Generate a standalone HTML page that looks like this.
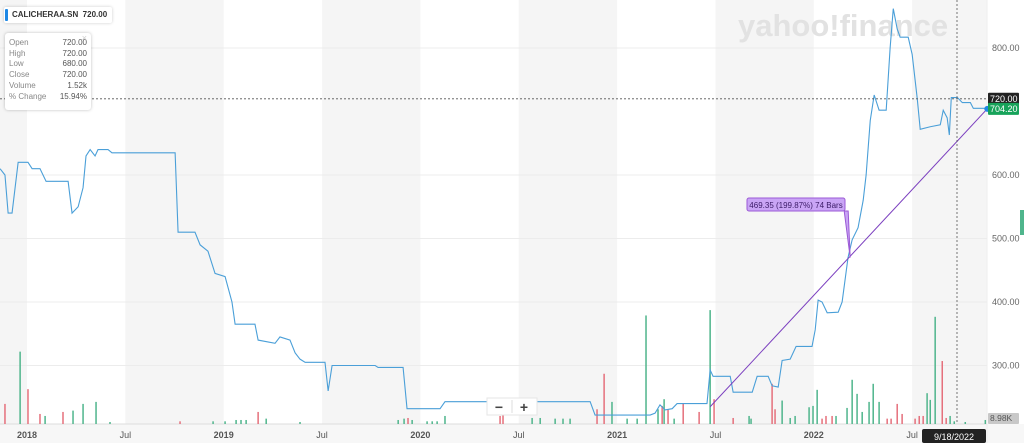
<!DOCTYPE html>
<html><head><meta charset="utf-8"><style>
html,body{margin:0;padding:0;background:#fff;width:1024px;height:443px;overflow:hidden;font-family:"Liberation Sans",sans-serif}
svg{display:block}
.tt{position:absolute;left:5px;top:33px;width:86px;height:77px;background:#fff;border-radius:3px;box-shadow:0 0 3px rgba(0,0,0,.25);font-size:8px;color:#888}
.tt div{display:flex;justify-content:space-between;padding:0 4px;line-height:10.7px}
.tt div span:last-child{color:#555}
</style></head><body>
<svg id="chart" width="1024" height="443"></svg>
<div style="position:absolute;left:4px;top:7px;height:16px;background:#fff;border-radius:2px;box-shadow:0 0 3px rgba(0,0,0,.2);font-size:8px;font-weight:bold;color:#333;line-height:16px;padding:0 5px 0 8px"><span style="position:absolute;left:1px;top:2px;width:3px;height:12px;background:#1e88e5;border-radius:1px"></span>CALICHERAA.SN&nbsp; 720.00</div>
<div class="tt"><div style="padding-top:5px"><span>Open</span><span>720.00</span></div><div><span>High</span><span>720.00</span></div><div><span>Low</span><span>680.00</span></div><div><span>Close</span><span>720.00</span></div><div><span>Volume</span><span>1.52k</span></div><div><span>% Change</span><span>15.94%</span></div><span style="position:absolute;right:4px;top:0;color:#ccc;font-size:9px">×</span></div>
<script>
const xTicks=[2018,2018.5,2019,2019.5,2020,2020.5,2021,2021.5,2022,2022.5];
const xTickLabels=["2018","Jul","2019","Jul","2020","Jul","2021","Jul","2022","Jul"];
const yTicks=[300,400,500,600,800];
const priceDates=[2017.863,2017.888,2017.904,2017.924,2017.955,2018.005,2018.026,2018.066,2018.097,2018.209,2018.229,2018.260,2018.285,2018.300,2018.321,2018.346,2018.361,2018.412,2018.432,2018.753,2018.768,2018.854,2018.880,2018.920,2018.956,2019.007,2019.042,2019.058,2019.159,2019.175,2019.261,2019.286,2019.337,2019.363,2019.388,2019.414,2019.515,2019.531,2019.551,2019.770,2019.785,2019.912,2019.932,2020.100,2020.125,2020.863,2020.888,2021.168,2021.193,2021.218,2021.244,2021.280,2021.305,2021.457,2021.473,2021.488,2021.575,2021.590,2021.687,2021.712,2021.768,2021.788,2021.819,2021.839,2021.880,2021.910,2021.991,2022.007,2022.022,2022.042,2022.068,2022.124,2022.144,2022.174,2022.195,2022.225,2022.251,2022.266,2022.287,2022.307,2022.332,2022.368,2022.388,2022.404,2022.424,2022.439,2022.480,2022.500,2022.526,2022.541,2022.592,2022.643,2022.658,2022.678,2022.689,2022.699,2022.730,2022.755,2022.796,2022.811,2022.882];
const prices=[610,600,540,540,620,620,610,610,590,590,540,550,580,630,640,630,640,640,635,635,510,510,490,480,445,440,400,365,365,340,335,345,340,320,310,305,305,260,300,300,297,297,232,232,243,243,222,222,225,238,230,232,240,240,293,283,283,258,258,283,283,268,266,308,310,330,330,356,403,400,383,384,400,470,498,517,560,600,686,726,702,702,800,862,830,817,817,790,720,672,676,679,702,690,663,722,722,714,714,705,705];
const volDates=[2017.888,2017.965,2018.005,2018.066,2018.092,2018.183,2018.234,2018.285,2018.351,2018.422,2018.778,2018.946,2019.007,2019.063,2019.088,2019.114,2019.175,2019.216,2019.388,2019.887,2019.917,2019.937,2019.958,2020.034,2020.060,2020.085,2020.125,2020.405,2020.420,2020.568,2020.609,2020.685,2020.725,2020.761,2020.898,2020.934,2020.974,2021.051,2021.102,2021.147,2021.208,2021.229,2021.239,2021.259,2021.290,2021.336,2021.417,2021.473,2021.493,2021.590,2021.671,2021.681,2021.788,2021.803,2021.839,2021.880,2021.905,2021.976,2021.996,2022.017,2022.042,2022.062,2022.093,2022.113,2022.169,2022.195,2022.220,2022.246,2022.281,2022.302,2022.332,2022.373,2022.393,2022.424,2022.449,2022.515,2022.536,2022.556,2022.576,2022.592,2022.617,2022.653,2022.673,2022.693,2022.714,2022.770,2022.872];
const volumes=[30,108,52,15,12,18,20,30,33,3,4,4,4,6,6,6,18,8,3,6,8,9,6,4,4,4,12,12,21,9,9,8,8,8,22,75,33,8,8,162,22,27,37,22,8,30,18,170,37,9,12,8,60,22,35,9,12,25,27,51,8,12,12,12,24,66,45,18,33,60,33,8,8,30,15,8,12,12,46,36,160,94,9,12,4,3,6];
const volUp=[0,1,0,0,1,0,1,1,1,1,0,1,1,1,1,1,0,1,1,1,1,0,1,1,1,1,1,0,0,1,1,1,1,1,0,0,1,1,1,1,1,0,1,0,1,0,0,1,0,0,1,1,0,0,1,1,1,1,1,1,0,0,0,1,1,1,1,1,1,1,1,0,0,0,0,0,0,0,1,1,1,0,0,1,1,1,1];
const trendStart=[2021.473,235],trendEnd=[2022.882,704.2];

const NS="http://www.w3.org/2000/svg",svg=document.getElementById('chart');
const PR=987,BASE=424;
const xs=t=>27+(t-2018)*196.7;
const ys=v=>48+(800-v)*0.635;
const vs=v=>v*0.67;
function mk(tag,at,parent){const e=document.createElementNS(NS,tag);for(const k in at)e.setAttribute(k,at[k]);(parent||svg).appendChild(e);return e;}
// shaded bands
for(let i=-1;i<xTicks.length;i+=2){const a=i<0?0:xs(xTicks[i]),b=i+1<xTicks.length?xs(xTicks[i+1]):PR;const r=mk('rect',{x:a,y:0,width:Math.min(b,PR)-a,height:BASE,fill:'#f5f5f5'});

}
mk('rect',{x:0,y:BASE,width:1024,height:19,fill:'#f7f7f7'});
mk('line',{x1:0,y1:BASE,x2:PR,y2:BASE,stroke:'#ddd'});
mk('line',{x1:PR,y1:0,x2:PR,y2:443,stroke:'#eee'});
// watermark
const wm=mk('text',{x:738,y:36,fill:'#e2e2e2','font-size':31,'font-weight':'bold','font-family':'Liberation Sans, sans-serif'});wm.textContent='yahoo!finance';


yTicks.forEach(v=>{const l=mk('line',{x1:0,y1:ys(v),x2:PR,y2:ys(v),stroke:'#ececec'});


const t=mk('text',{x:992,y:ys(v)+3,fill:'#666','font-size':9});t.textContent=v.toFixed(2);

});
xTicks.forEach((v,i)=>{const t=mk('text',{x:xs(v),y:438,fill:'#555','font-size':9,'text-anchor':'middle','font-weight':xTickLabels[i]==='Jul'?'normal':'bold'});t.textContent=xTickLabels[i];

});
// volume bars
volDates.forEach((d,i)=>{const h=vs(volumes[i]);const r=mk('rect',{x:xs(d)-0.75,y:BASE-h,width:1.5,height:h,fill:volUp[i]?'#4fb58c':'#e5707c'});

});
// price line
const pl=mk('polyline',{points:priceDates.map((d,i)=>xs(d)+','+ys(prices[i])).join(' '),fill:'none',stroke:'#4a9fd8','stroke-width':1.1});


// trendline
const tl=mk('line',{x1:xs(trendStart[0]),y1:ys(trendStart[1]),x2:xs(trendEnd[0]),y2:ys(trendEnd[1]),stroke:'#7b3fbf','stroke-width':1});


const midX=xs(2022.185),midY=ys(470);
const cp=mk('path',{d:`M${midX} ${midY} L${midX-6} 211 L${midX-2} 211 Z`,fill:'#c9a5f5',stroke:'#9b59d6'});
const cb=mk('rect',{x:747,y:198,width:98,height:13,rx:2,fill:'#c9a5f5',stroke:'#9b59d6'});


const ct=mk('text',{x:796,y:208,fill:'#3a1a66','font-size':8,'text-anchor':'middle'});ct.textContent='469.35 (199.87%) 74 Bars';
// crosshair
mk('line',{x1:0,y1:ys(720),x2:PR,y2:ys(720),stroke:'#555','stroke-dasharray':'2,2','stroke-width':.8});
mk('line',{x1:957,y1:0,x2:957,y2:BASE,stroke:'#555','stroke-dasharray':'2,2','stroke-width':.8});
mk('circle',{cx:xs(trendEnd[0]),cy:ys(trendEnd[1]),r:3,fill:'#1e88e5'});
// price labels
mk('rect',{x:988,y:ys(720)-6,width:31,height:12,fill:'#222',rx:1});
let t=mk('text',{x:990,y:ys(720)+3,fill:'#fff','font-size':9});t.textContent='720.00';
mk('rect',{x:988,y:ys(704.2)-6,width:31,height:12,fill:'#17a35a',rx:1});
t=mk('text',{x:990,y:ys(704.2)+3,fill:'#fff','font-size':9});t.textContent='704.20';
mk('rect',{x:988,y:413,width:31,height:11,fill:'#c8c8c8',rx:1});
t=mk('text',{x:990,y:421,fill:'#555','font-size':8.5});t.textContent='8.98K';
mk('rect',{x:1020,y:210,width:4,height:25,fill:'#4fb58c'});
mk('rect',{x:922,y:429,width:64,height:14,fill:'#222',rx:2});
t=mk('text',{x:954,y:440,fill:'#fff','font-size':9,'text-anchor':'middle'});t.textContent='9/18/2022';


// zoom buttons
const zb=mk('rect',{x:487,y:398,width:50,height:17,fill:'#fff',stroke:'#e5e5e5'});


mk('line',{x1:512,y1:400,x2:512,y2:413,stroke:'#ddd'});
t=mk('text',{x:499,y:412,fill:'#444','font-size':14,'font-weight':'bold','text-anchor':'middle'});t.textContent='−';


t=mk('text',{x:524,y:412,fill:'#444','font-size':14,'font-weight':'bold','text-anchor':'middle'});t.textContent='+';


</script>
</body></html>
